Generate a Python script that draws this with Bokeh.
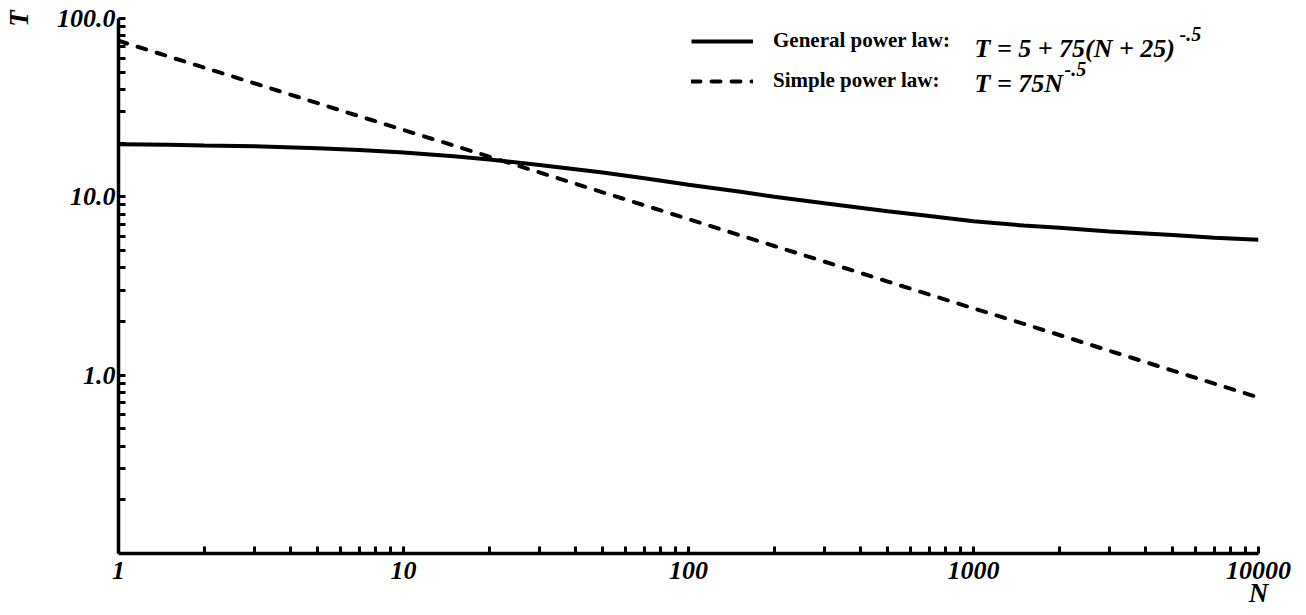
from bokeh.plotting import figure
from bokeh.models import FixedTicker, Label, Legend, LegendItem, Range1d
from bokeh.embed import file_html
from bokeh.resources import INLINE

# ---- data ----
N_values = [1, 1.5, 2, 3, 5, 7, 10, 15, 20, 30, 50, 70, 100, 150, 200, 300,
            500, 700, 1000, 1500, 2000, 3000, 5000, 7000, 10000]
general_T = [19.7, 19.6, 19.4, 19.2, 18.7, 18.3, 17.7, 16.9, 16.2, 15.1, 13.7,
             12.7, 11.7, 10.7, 10.0, 9.2, 8.3, 7.8, 7.3, 6.9, 6.7, 6.4, 6.1,
             5.9, 5.75]
simple_T = [75, 61.2, 53.0, 43.3, 33.5, 28.3, 23.7, 19.4, 16.8, 13.7, 10.6,
            8.96, 7.5, 6.12, 5.30, 4.33, 3.35, 2.83, 2.37, 1.94, 1.68, 1.37,
            1.06, 0.896, 0.75]

x_major = [1, 10, 100, 1000, 10000]
x_labels = {1: "1", 10: "10", 100: "100", 1000: "1000", 10000: "10000"}
y_major = [1, 10, 100]
y_labels = {1: "1.0", 10: "10.0", 100: "100.0"}

x_title = "N"
y_title = "T"
general_label = "General power law:"
simple_label = "Simple power law:"
general_formula = "T = 5 + 75(N + 25)"
simple_formula = "T = 75N"
exponent = "-.5"

SERIF = "Liberation Serif"

def minor_between(decades):
    out = []
    for d in decades:
        for k in range(2, 10):
            out.append(k * d)
    return out

x_minor = minor_between([1, 10, 100, 1000])
y_minor = minor_between([0.1, 1, 10])

p = figure(width=1306, height=615, x_axis_type="log", y_axis_type="log",
           x_range=Range1d(1, 10000), y_range=Range1d(0.1, 100),
           output_backend="svg", toolbar_location=None,
           min_border_left=117, min_border_right=48,
           min_border_top=18, min_border_bottom=62)
p.outline_line_color = None
p.grid.visible = False
p.background_fill_color = "white"
p.border_fill_color = "white"

for ax, ticks, minor, labels, standoff in (
        (p.xaxis[0], x_major, x_minor, x_labels, 8),
        (p.yaxis[0], y_major, y_minor, y_labels, 3)):
    ax.ticker = FixedTicker(ticks=ticks, minor_ticks=minor)
    ax.major_label_overrides = labels
    ax.axis_line_width = 3.5
    ax.axis_line_color = "black"
    ax.major_tick_in = 7
    ax.major_tick_out = 0
    ax.minor_tick_in = 7
    ax.minor_tick_out = 0
    ax.major_tick_line_width = 3
    ax.minor_tick_line_width = 3
    ax.major_tick_line_color = "black"
    ax.minor_tick_line_color = "black"
    ax.major_label_text_font = SERIF
    ax.major_label_text_font_style = "bold italic"
    ax.major_label_text_font_size = "26px"
    ax.major_label_text_color = "black"
    ax.major_label_standoff = standoff
    ax.axis_label_text_font = SERIF
    ax.axis_label_text_font_style = "bold italic"
    ax.axis_label_text_font_size = "27px"
    ax.axis_label_text_color = "black"
    ax.axis_label_align = "end"

p.xaxis[0].axis_label = x_title
p.xaxis[0].axis_label_standoff = -4
p.yaxis[0].axis_label = y_title
p.yaxis[0].axis_label_standoff = 20

r_gen = p.line(N_values, general_T, line_color="black", line_width=4)
r_sim = p.line(N_values, simple_T, line_color="black", line_width=4,
               line_dash="9 11", line_cap="round")

legend = Legend(items=[LegendItem(label=general_label, renderers=[r_gen]),
                       LegendItem(label=simple_label, renderers=[r_sim])],
                location=(573, 460), orientation="vertical",
                glyph_width=62, glyph_height=20, label_height=20,
                label_standoff=20, spacing=15, padding=0, margin=0,
                label_text_font=SERIF, label_text_font_style="bold",
                label_text_font_size="21px", label_text_color="black",
                border_line_alpha=0, background_fill_alpha=0)
p.add_layout(legend, "center")

def lab(x, y, text, size):
    p.add_layout(Label(x=x, y=y, x_units="screen", y_units="screen",
                       text=text, text_font=SERIF,
                       text_font_style="bold italic",
                       text_font_size=size, text_color="black",
                       text_align="left", text_baseline="middle"))

lab(856, 505, general_formula, "26px")
lab(1061, 520, exponent, "20px")
lab(856, 470, simple_formula, "26px")
lab(946, 485, exponent, "20px")

open("out.html", "w").write(file_html(p, INLINE))
